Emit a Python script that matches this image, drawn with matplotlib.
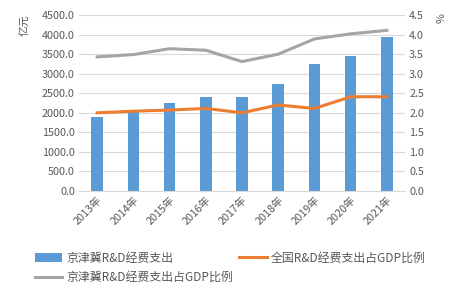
import matplotlib
matplotlib.use("Agg")
import matplotlib.pyplot as plt
import numpy as np

plt.rcParams['font.family'] = ['Noto Sans CJK SC', 'DejaVu Sans']

# du lieu doc tu bieu do
years = ["2013年", "2014年", "2015年", "2016年", "2017年", "2018年", "2019年", "2020年", "2021年"]
jjj_spend = [1890, 2020, 2250, 2400, 2400, 2740, 3250, 3450, 3940]
national_ratio = [2.00, 2.04, 2.07, 2.11, 2.00, 2.20, 2.11, 2.41, 2.41]
jjj_ratio = [3.43, 3.49, 3.64, 3.60, 3.31, 3.50, 3.89, 4.02, 4.11]

BLUE = "#5B9BD5"
ORANGE = "#ED7D31"
GRAY = "#A5A5A5"
TXT = "#595959"

fig = plt.figure(figsize=(4.65, 2.96), dpi=100)
ax = fig.add_axes([0.17, 0.355, 0.701, 0.594])
ax2 = ax.twinx()

x = np.arange(len(years))
b = ax.bar(x, jjj_spend, width=0.32, color=BLUE, zorder=2, label="京津冀R&D经费支出")
l2, = ax2.plot(x, jjj_ratio, color=GRAY, lw=2.2, label="京津冀R&D经费支出占GDP比例")
l1, = ax2.plot(x, national_ratio, color=ORANGE, lw=2.2, label="全国R&D经费支出占GDP比例")

ax.set_ylim(0, 4500)
ax.set_yticks(np.arange(0, 4501, 500))
ax.set_yticklabels([f"{v:.1f}" for v in np.arange(0, 4501, 500)])
ax2.set_ylim(0, 4.5)
ax2.set_yticks(np.arange(0, 4.51, 0.5))
ax2.set_yticklabels([f"{v:.1f}" for v in np.arange(0, 4.51, 0.5)])
ax.set_xlim(-0.5, len(years) - 0.5)
ax.set_xticks(x)
ax.set_xticklabels(years, rotation=45, ha="right", rotation_mode="anchor")

ax.grid(axis="y", color="#D9D9D9", lw=0.8, zorder=0)
ax.set_axisbelow(True)
for a in (ax, ax2):
    for s in a.spines.values():
        s.set_visible(False)
    a.tick_params(length=0, labelsize=7.8, labelcolor=TXT, pad=3)
ax.spines["bottom"].set_visible(True)
ax.spines["bottom"].set_color("#D9D9D9")

fig.text(0.052, 0.915, "亿元", rotation=90, fontsize=7.8, color=TXT, ha="center", va="center")
fig.text(0.95, 0.94, "%", rotation=90, fontsize=7.8, color=TXT, ha="center", va="center")

fig.legend(handles=[b, l2, l1], loc="upper left", bbox_to_anchor=(0.075, 0.15), ncol=2,
           frameon=False, fontsize=8.6, labelcolor=TXT, handlelength=2.3,
           columnspacing=0.5, handletextpad=0.35, labelspacing=0.55, borderaxespad=0,
           borderpad=0)

fig.savefig("out.png", dpi=100)
